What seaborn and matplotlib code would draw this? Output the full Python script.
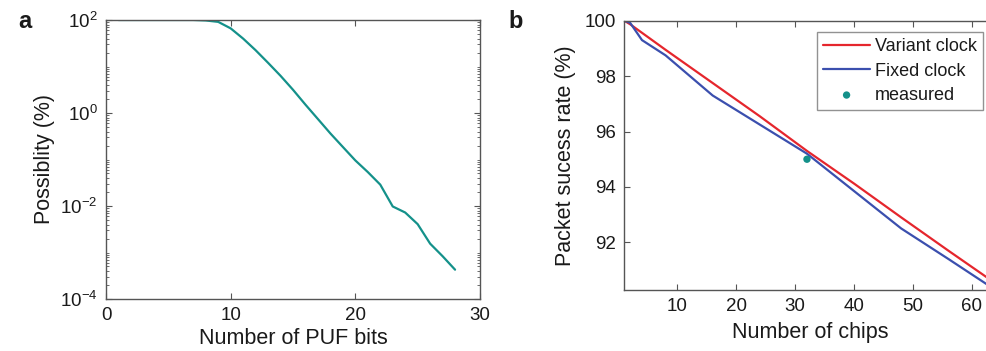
import numpy as np
import pandas as pd
import matplotlib
matplotlib.use("Agg")
import matplotlib.pyplot as plt
import matplotlib.ticker as mticker
import seaborn as sns

# ---- data ----
puf_bits = [1, 2, 3, 4, 5, 6, 7, 8, 9, 10, 11, 12, 13, 14, 15, 16, 17, 18, 19, 20,
            21, 22, 23, 24, 25, 26, 27, 28]
possibility = [100, 100, 100, 100, 100, 100, 100, 97.7, 91.2, 66.1, 39.8, 22.4, 12.0,
               6.31, 3.16, 1.51, 0.741, 0.363, 0.186, 0.0955, 0.0537, 0.0288,
               0.00977, 0.00724, 0.00407, 0.00155, 0.000832, 0.000427]

variant_chips = [1, 2, 8, 16, 24, 32, 40, 48, 56, 64]
variant_rate = [100, 99.87, 98.95, 97.75, 96.55, 95.3, 94.12, 92.9, 91.7, 90.52]

fixed_chips = [1, 2, 4, 8, 16, 24, 32, 40, 48, 56, 64]
fixed_rate = [100, 99.92, 99.3, 98.75, 97.3, 96.25, 95.2, 93.85, 92.5, 91.4, 90.28]

measured_chips = [32]
measured_rate = [95.0]

a_yticks = [1e-4, 1e-2, 1e0, 1e2]
a_xticks = [0, 10, 20, 30]
b_xticks = [10, 20, 30, 40, 50, 60]
b_yticks = [92, 94, 96, 98, 100]

# ---- style ----
sns.set_theme(style="ticks")
plt.rcParams["font.family"] = ["Liberation Sans", "DejaVu Sans"]
plt.rcParams["mathtext.default"] = "regular"
plt.rcParams["mathtext.fontset"] = "custom"
plt.rcParams["mathtext.rm"] = "Liberation Sans"
TXT = "#1a1a1a"
plt.rcParams["text.color"] = TXT
plt.rcParams["axes.labelcolor"] = TXT
plt.rcParams["xtick.labelcolor"] = TXT
plt.rcParams["ytick.labelcolor"] = TXT

TEAL = "#14918a"
RED = "#e5262d"
BLUE = "#3b4fae"
SPINE = "#555555"

fig = plt.figure(figsize=(9.86, 3.51), dpi=100)
axa = fig.add_axes([106 / 986, 52 / 351, 374 / 986, 279 / 351])
axb = fig.add_axes([624.3 / 986, 61 / 351, 371.2 / 986, 269.3 / 351])

# ---- panel a ----
df_a = pd.DataFrame({"bits": puf_bits, "p": possibility})
sns.lineplot(data=df_a, x="bits", y="p", ax=axa, color=TEAL, linewidth=1.6)
axa.set_yscale("log")
axa.set_xlim(0, 30)
axa.set_ylim(1e-4, 1e2)
axa.set_xticks(a_xticks)
axa.yaxis.set_major_locator(mticker.FixedLocator(a_yticks))
axa.yaxis.set_minor_locator(mticker.LogLocator(base=10, subs=np.arange(1, 10), numticks=20))
axa.yaxis.set_major_formatter(mticker.LogFormatterSciNotation())
axa.yaxis.set_minor_formatter(mticker.NullFormatter())
axa.set_xlabel("Number of PUF bits", fontsize=15.5, labelpad=3)
axa.set_ylabel("Possiblity (%)", fontsize=15.5, labelpad=4)

# ---- panel b ----
df_v = pd.DataFrame({"chips": variant_chips, "rate": variant_rate})
df_f = pd.DataFrame({"chips": fixed_chips, "rate": fixed_rate})
df_m = pd.DataFrame({"chips": measured_chips, "rate": measured_rate})
sns.lineplot(data=df_v, x="chips", y="rate", ax=axb, color=RED, linewidth=1.6,
             label="Variant clock")
sns.lineplot(data=df_f, x="chips", y="rate", ax=axb, color=BLUE, linewidth=1.6,
             label="Fixed clock")
sns.scatterplot(data=df_m, x="chips", y="rate", ax=axb, color=TEAL, s=28,
                edgecolor="none", label="measured", zorder=5)
axb.set_xlim(1, 64)
axb.set_ylim(90.28, 100)
axb.set_xticks(b_xticks)
axb.set_yticks(b_yticks)
axb.set_xlabel("Number of chips", fontsize=15.5, labelpad=5)
axb.set_ylabel("Packet sucess rate (%)", fontsize=15.5, labelpad=6)
leg = axb.legend(loc="upper right", bbox_to_anchor=(0.966, 0.958), borderaxespad=0,
                 fontsize=13, frameon=True, fancybox=False, handlelength=2.6,
                 handletextpad=0.25, borderpad=0.35, labelspacing=0.4)
leg.get_frame().set_edgecolor("#777777")
leg.get_frame().set_linewidth(1.0)

for ax in (axa, axb):
    for sp in ax.spines.values():
        sp.set_visible(True)
        sp.set_color(SPINE)
        sp.set_linewidth(1.0)
    ax.tick_params(which="both", direction="in", top=True, right=True,
                   color=SPINE, labelsize=13.5, pad=6)
    ax.tick_params(which="major", length=4, width=0.8)
    ax.tick_params(which="minor", length=2, width=0.6)
    ax.grid(False)

fig.text(18 / 986, 1 - 22 / 351, "a", fontsize=17, fontweight="bold", va="center", ha="left")
fig.text(508 / 986, 1 - 22 / 351, "b", fontsize=17, fontweight="bold", va="center", ha="left")

fig.savefig("out.png", dpi=100)
